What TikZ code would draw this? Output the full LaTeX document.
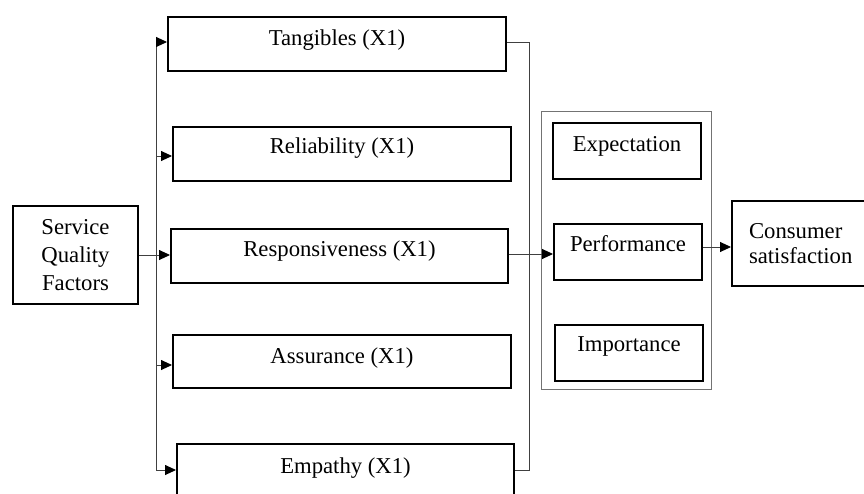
\documentclass[tikz,border=0pt]{standalone}
\usepackage{fontspec}
\setmainfont{Liberation Serif}
\usetikzlibrary{arrows.meta}
\begin{document}
\begin{tikzpicture}[x=1pt,y=-1pt,
  box/.style={draw=black, line width=2pt, inner sep=0pt, anchor=north west,
    font=\fontsize{22.7}{28}\selectfont},
  conn/.style={draw=black!75, line width=0.9pt},
  arr/.style={conn, -{Triangle[length=11pt,width=10pt,color=black]}},
  grp/.style={draw=black!55, line width=1pt, inner sep=0pt, anchor=north west}]
\clip (0,0) rectangle (864,493);
\fill[white] (0,0) rectangle (864,493);
% left box
\node[box, align=center, minimum width=125pt, minimum height=98pt] (sqf) at (12,205) {Service\\Quality\\Factors};
% factor boxes
\node[box, minimum width=338pt, text height=28pt, text depth=26pt] (tan) at (167,16) {Tangibles (X1)};
\node[box, minimum width=338pt, text height=26pt, text depth=28pt] (rel) at (172,126) {Reliability (X1)};
\node[box, minimum width=337pt, text height=27pt, text depth=27pt] (resp) at (170,228) {Responsiveness (X1)};
\node[box, minimum width=338pt, text height=28pt, text depth=25pt] (ass) at (172,334) {Assurance (X1)};
\node[box, minimum width=337pt, text height=29pt, text depth=31pt] (emp) at (176,443) {Empathy (X1)};
% group
\node[grp, minimum width=170pt, minimum height=278pt] (grp) at (541,111) {};
\node[box, minimum width=148pt, text height=28pt, text depth=28pt] (exp) at (552,122) {Expectation};
\node[box, minimum width=148pt, text height=27pt, text depth=29pt] (perf) at (553,223) {Performance};
\node[box, minimum width=148pt, text height=26pt, text depth=30pt] (imp) at (554,324) {Importance};
% consumer satisfaction
\node[box, align=left, text width=116pt, inner xsep=17pt, minimum height=85pt,
  font=\fontsize{22.7}{25}\selectfont] (cons) at (731,200) {Consumer\\satisfaction};
% trunk
\coordinate (t1) at (156,42);
\coordinate (t2) at (156,156);
\coordinate (t4) at (156,365);
\coordinate (t5) at (156,470);
\draw[conn] (t1) -- (t5);
\draw[arr] (t1) -- (t1 -| tan.west);
\draw[arr] (t2) -- (t2 -| rel.west);
\draw[arr] (t4) -- (t4 -| ass.west);
\draw[arr] (t5) -- (t5 -| emp.west);
\draw[arr] (sqf.east) -- (sqf.east -| resp.west);
% collector
\coordinate (c1) at (529,42);
\coordinate (c2) at (529,470);
\draw[conn] (c1 -| tan.east) -- (c1) -- (c2) -- (c2 -| emp.east);
\coordinate (rp) at (507,254);
\draw[arr] (rp -| resp.east) -- (rp -| perf.west);
\coordinate (pc) at (701,247);
\draw[arr] (pc -| perf.east) -- (pc -| cons.west);
\end{tikzpicture}
\end{document}
